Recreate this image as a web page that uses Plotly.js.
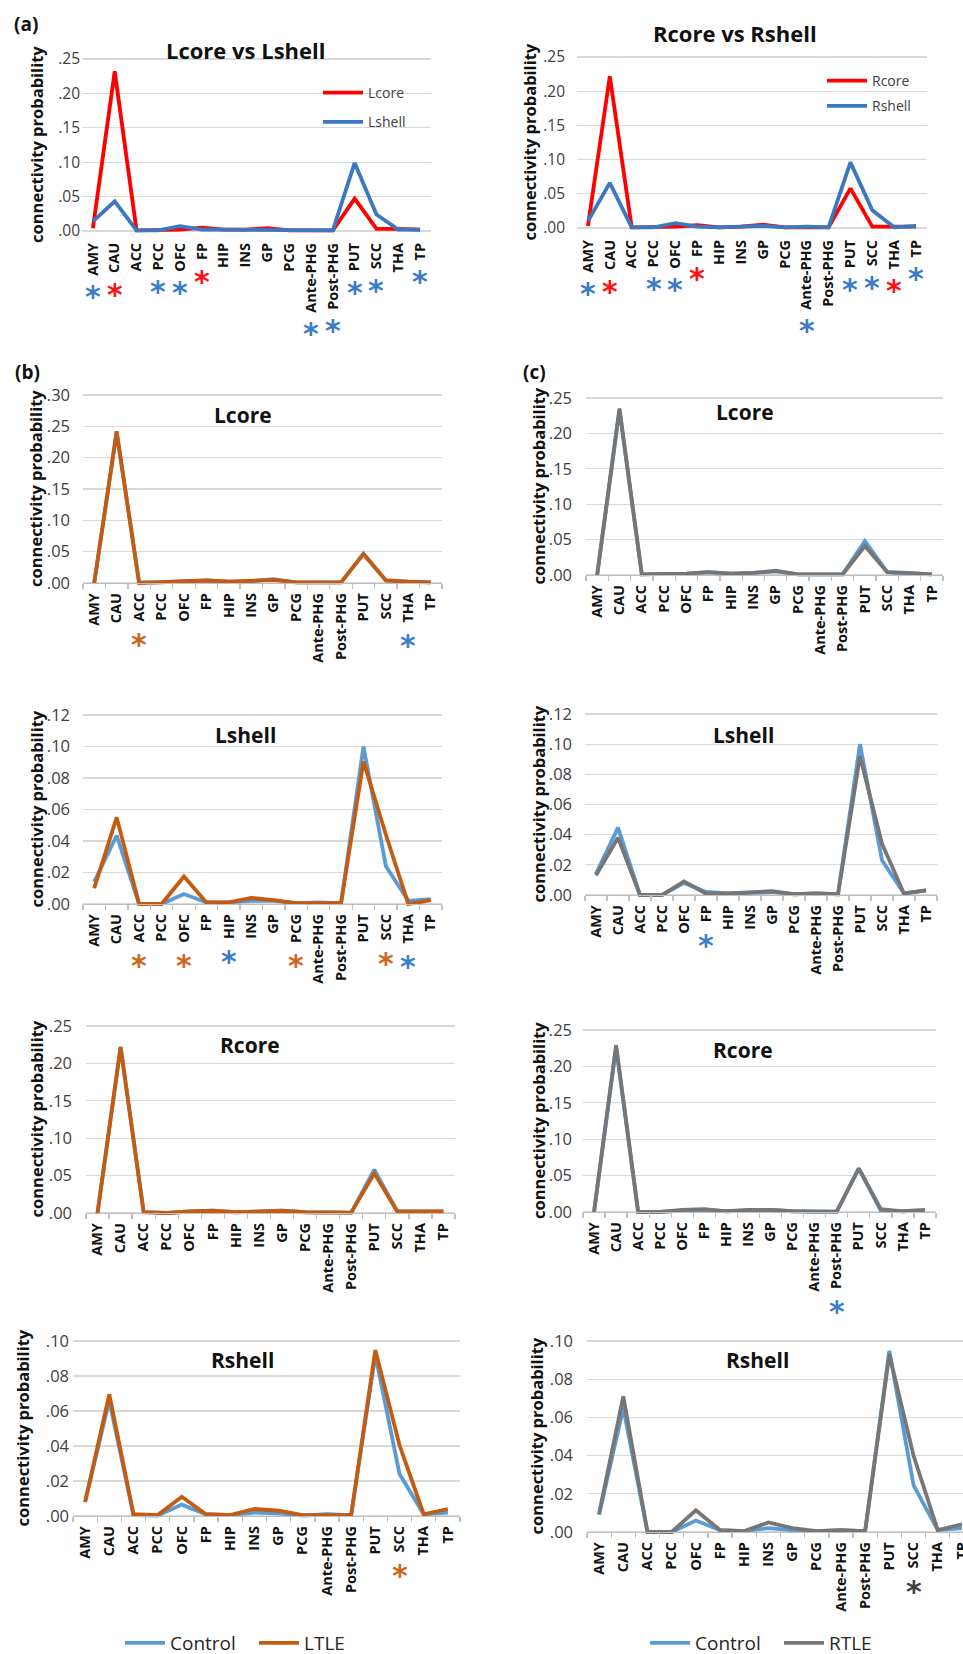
<!DOCTYPE html>
<html><head><meta charset="utf-8">
<script src="https://cdn.plot.ly/plotly-3.0.1.min.js"></script>
<style>html,body{margin:0;padding:0;overflow:hidden;background:#fff;width:963px;height:1654px}#chart{width:980px;height:1680px}</style>
</head><body><div id="chart"></div><script>
const categories = ['AMY','CAU','ACC','PCC','OFC','FP','HIP','INS','GP','PCG','Ante-PHG','Post-PHG','PUT','SCC','THA','TP'];
const yTicksA = [0, 0.05, 0.10, 0.15, 0.20, 0.25];
const yTicks30 = [0, 0.05, 0.10, 0.15, 0.20, 0.25, 0.30];
const yTicks12 = [0, 0.02, 0.04, 0.06, 0.08, 0.10, 0.12];
const yTicks10 = [0, 0.02, 0.04, 0.06, 0.08, 0.10];

// (a) core vs shell
const aLcore  = [0.004,0.232,0.001,0.001,0.002,0.005,0.002,0.002,0.004,0.001,0.001,0.001,0.047,0.003,0.003,0.002];
const aLshell = [0.014,0.043,0.001,0.001,0.007,0.002,0.002,0.002,0.002,0.001,0.002,0.001,0.099,0.024,0.002,0.002];
const aRcore  = [0.003,0.222,0.001,0.001,0.002,0.004,0.001,0.002,0.005,0.001,0.001,0.001,0.058,0.002,0.002,0.002];
const aRshell = [0.010,0.066,0.001,0.001,0.007,0.002,0.001,0.002,0.003,0.001,0.002,0.001,0.096,0.026,0.001,0.003];

// (b) Control vs LTLE
const bLcoreControl  = [0.000,0.240,0.001,0.001,0.003,0.004,0.002,0.003,0.006,0.001,0.001,0.001,0.047,0.004,0.002,0.001];
const bLcoreLTLE     = [0.000,0.242,0.000,0.001,0.003,0.004,0.002,0.003,0.005,0.001,0.001,0.001,0.046,0.004,0.002,0.001];
const bLshellControl = [0.014,0.0435,0.000,0.000,0.0063,0.001,0.001,0.002,0.002,0.0005,0.001,0.0005,0.100,0.024,0.002,0.003];
const bLshellLTLE    = [0.010,0.055,0.000,0.000,0.0175,0.001,0.001,0.0038,0.0025,0.0005,0.0005,0.0005,0.0905,0.044,0.000,0.0025];
const bRcoreControl  = [0.000,0.222,0.001,0.000,0.002,0.003,0.001,0.002,0.003,0.001,0.001,0.0005,0.058,0.002,0.002,0.002];
const bRcoreLTLE     = [0.000,0.222,0.001,0.000,0.002,0.003,0.001,0.002,0.003,0.001,0.001,0.0005,0.053,0.002,0.002,0.002];
const bRshellControl = [0.008,0.066,0.0005,0.0003,0.0065,0.001,0.0005,0.002,0.0015,0.0003,0.001,0.0005,0.092,0.024,0.001,0.002];
const bRshellLTLE    = [0.008,0.0695,0.001,0.0005,0.011,0.001,0.0005,0.004,0.003,0.0005,0.0005,0.0005,0.0948,0.0405,0.001,0.004];

// (c) Control vs RTLE
const cLcoreControl  = [0.000,0.233,0.001,0.001,0.002,0.004,0.002,0.003,0.005,0.001,0.001,0.001,0.048,0.004,0.002,0.001];
const cLcoreRTLE     = [0.000,0.235,0.001,0.001,0.002,0.004,0.002,0.003,0.006,0.001,0.001,0.001,0.041,0.004,0.003,0.001];
const cLshellControl = [0.014,0.0447,0.000,0.000,0.008,0.002,0.001,0.0015,0.002,0.0005,0.001,0.0005,0.100,0.023,0.001,0.003];
const cLshellRTLE    = [0.013,0.038,0.000,0.000,0.009,0.001,0.001,0.0015,0.0025,0.0005,0.001,0.0005,0.092,0.034,0.001,0.003];
const cRcoreControl  = [0.000,0.226,0.000,0.000,0.002,0.003,0.001,0.002,0.003,0.001,0.0005,0.0005,0.0596,0.002,0.001,0.002];
const cRcoreRTLE     = [0.000,0.229,0.000,0.000,0.003,0.004,0.001,0.003,0.003,0.001,0.0005,0.0005,0.060,0.004,0.001,0.003];
const cRshellControl = [0.009,0.065,0.000,0.000,0.006,0.001,0.0005,0.002,0.001,0.0005,0.001,0.0005,0.0948,0.0245,0.001,0.002];
const cRshellRTLE    = [0.0096,0.071,0.000,0.000,0.0114,0.001,0.0005,0.005,0.002,0.0005,0.001,0.0005,0.093,0.040,0.001,0.004];

// significance marks: [category, group]
const sigAL = [['AMY','shell'],['CAU','core'],['PCC','shell'],['OFC','shell'],['FP','core'],['Ante-PHG','shell'],['Post-PHG','shell'],['PUT','shell'],['SCC','shell'],['TP','shell']];
const sigAR = [['AMY','shell'],['CAU','core'],['PCC','shell'],['OFC','shell'],['FP','core'],['Ante-PHG','shell'],['PUT','shell'],['SCC','shell'],['THA','core'],['TP','shell']];
const sigBLcore  = [['ACC','patient'],['THA','control']];
const sigBLshell = [['ACC','patient'],['OFC','patient'],['HIP','control'],['PCG','patient'],['SCC','patient'],['THA','control']];
const sigBRcore  = [];
const sigBRshell = [['SCC','patient']];
const sigCLcore  = [];
const sigCLshell = [['FP','control']];
const sigCRcore  = [['Post-PHG','control']];
const sigCRshell = [['SCC','patient']];

// ---------- styling / layout ----------
const W = 980, H = 1680;
const FONT = 'Open Sans';
const C = {core:'#ff0000', shell:'#3b78c0', control:'#5b9bd5', ltle:'#c55a11', rtle:'#767676'};
const STAR = {a:{core:'#ff1010', shell:'#3b7cc6'}, b:{patient:'#d0651c', control:'#3a80c8'}, c:{patient:'#404040', control:'#3a80c8'}};

const panels = [
  {grp:'a', xl:82,  xr:431, yt:59,   yb:231,  ticks:yTicksA,  title:'Lcore vs Lshell', tx:245, ty:50,   ytx:36,  gap:4,
   series:[{name:'Lcore',y:aLcore,color:C.core,legend:'legend'},{name:'Lshell',y:aLshell,color:C.shell,legend:'legend'}], sig:sigAL},
  {grp:'a', xl:577, xr:927, yt:57,   yb:228,  ticks:yTicksA,  title:'Rcore vs Rshell', tx:735, ty:33,   ytx:529, gap:14,
   series:[{name:'Rcore',y:aRcore,color:C.core,legend:'legend2'},{name:'Rshell',y:aRshell,color:C.shell,legend:'legend2'}], sig:sigAR},
  {grp:'b', xl:83,  xr:442, yt:395,  yb:583,  ticks:yTicks30, title:'Lcore', tx:243, ty:415,  ytx:36,  gap:15,
   series:[{name:'Control',y:bLcoreControl,color:C.control,legend:'legend3',show:true},{name:'LTLE',y:bLcoreLTLE,color:C.ltle,legend:'legend3',show:true}], sig:sigBLcore},
  {grp:'c', xl:586, xr:943, yt:398,  yb:575,  ticks:yTicksA,  title:'Lcore', tx:745, ty:412,  ytx:538, gap:16,
   series:[{name:'Control',y:cLcoreControl,color:C.control,legend:'legend4',show:true},{name:'RTLE',y:cLcoreRTLE,color:C.rtle,legend:'legend4',show:true}], sig:sigCLcore},
  {grp:'b', xl:83,  xr:442, yt:715,  yb:904,  ticks:yTicks12, title:'Lshell', tx:245, ty:735, ytx:36,  gap:15,
   series:[{name:'Control',y:bLshellControl,color:C.control},{name:'LTLE',y:bLshellLTLE,color:C.ltle}], sig:sigBLshell},
  {grp:'c', xl:585, xr:937, yt:714,  yb:895,  ticks:yTicks12, title:'Lshell', tx:743, ty:735, ytx:538, gap:15,
   series:[{name:'Control',y:cLshellControl,color:C.control},{name:'RTLE',y:cLshellRTLE,color:C.rtle}], sig:sigCLshell},
  {grp:'b', xl:86,  xr:455, yt:1026, yb:1213, ticks:yTicksA,  title:'Rcore', tx:250, ty:1045, ytx:36,  gap:16,
   series:[{name:'Control',y:bRcoreControl,color:C.control},{name:'LTLE',y:bRcoreLTLE,color:C.ltle}], sig:sigBRcore},
  {grp:'c', xl:583, xr:936, yt:1030, yb:1212, ticks:yTicksA,  title:'Rcore', tx:743, ty:1050, ytx:538, gap:13,
   series:[{name:'Control',y:cRcoreControl,color:C.control},{name:'RTLE',y:cRcoreRTLE,color:C.rtle}], sig:sigCRcore},
  {grp:'b', xl:73,  xr:460, yt:1341, yb:1516, ticks:yTicks10, title:'Rshell', tx:242, ty:1360, ytx:22,  gap:6,
   series:[{name:'Control',y:bRshellControl,color:C.control},{name:'LTLE',y:bRshellLTLE,color:C.ltle}], sig:sigBRshell},
  {grp:'c', xl:587, xr:974, yt:1341, yb:1532, ticks:yTicks10, title:'Rshell', tx:757, ty:1360, ytx:536, gap:16,
   series:[{name:'Control',y:cRshellControl,color:C.control},{name:'RTLE',y:cRshellRTLE,color:C.rtle}], sig:sigCRshell}
];

const ctx = document.createElement('canvas').getContext('2d');
ctx.font = 'bold 14.5px "Open Sans"';
const labelW = s => ctx.measureText(s).width;

const px = x => x / W, py = y => (H - y) / H;
const traces = [], annotations = [];
const layout = {width: W, height: H, margin:{l:0,r:0,t:0,b:0}, paper_bgcolor:'#fff', plot_bgcolor:'rgba(0,0,0,0)', showlegend:true, annotations};

panels.forEach((p, i) => {
  const k = i + 1;
  const xn = k === 1 ? 'x' : 'x' + k, yn = k === 1 ? 'y' : 'y' + k;
  const top = p.ticks[p.ticks.length - 1];
  const ppu = (p.yb - p.yt) / top;
  const extB = 6, extT = 3;
  const isA = p.grp === 'a';
  layout['xaxis' + (k === 1 ? '' : k)] = {
    type:'category', categoryorder:'array', categoryarray:categories, range:[-0.5, 15.5],
    domain:[px(p.xl), Math.min(1, px(p.xr))], anchor:'free', position:py(p.yb),
    tickangle:-90, tickfont:{family:FONT, size:14.5, color:'#111', weight:'bold'},
    showgrid:false, zeroline:false, showline:!isA, linecolor:'#bfbfbf', linewidth:1.3,
    ticks: isA ? '' : 'outside', tickson:'boundaries', ticklen:5, tickcolor:'#bfbfbf', tickwidth:1.3,
    ticklabelstandoff: isA ? 8 : 3, fixedrange:true
  };
  layout['yaxis' + (k === 1 ? '' : k)] = {
    anchor: xn, domain:[py(p.yb + extB), py(p.yt - extT)], range:[-extB / ppu, top + extT / ppu],
    tickvals:p.ticks, ticktext:p.ticks.map(v => v.toFixed(2).replace(/^0/, '')),
    tickfont:{family:FONT, size: isA ? 15.5 : 16.5, color:'#404040'},
    showgrid:true, gridcolor:'#d9d9d9', gridwidth:1.3, zeroline:false, showline:false, ticks:'',
    ticklabelstandoff: Math.max(0, p.gap - 3), fixedrange:true
  };
  p.series.forEach((s, j) => {
    traces.push({
      type:'scatter', mode:'lines', x:categories, y:s.y, name:s.name, xaxis:xn, yaxis:yn,
      line:{color:s.color, width:3.8},
      legend: s.legend || 'legend3', legendgroup: (s.legend || 'l') + s.name,
      showlegend: isA ? true : !!s.show, hoverinfo:'skip'
    });
  });
  annotations.push({xref:'paper', yref:'paper', x:px(p.tx), y:py(p.ty), xanchor:'center', yanchor:'middle',
    text:p.title, showarrow:false, font:{family:FONT, size: isA ? 22 : 21, color:'#111', weight:'bold'}});
  annotations.push({xref:'paper', yref:'paper', x:px(p.ytx), y:py((p.yt + p.yb) / 2), xanchor:'center', yanchor:'middle',
    text:'connectivity probability', textangle:-90, showarrow:false, font:{family:FONT, size:16.5, color:'#111', weight:'bold'}});
  p.sig.forEach(([cat, g]) => {
    const off = 13 + labelW(cat) + 13;
    annotations.push({xref:xn, yref:'paper', x:cat, y:py(p.yb), xanchor:'center', yanchor:'middle',
      yshift: -(off + 7), text:'*', showarrow:false, font:{family:'DejaVu Sans', size:30, color:STAR[p.grp][g], weight:'bold'}});
  });
});

[['(a)', 26, 24], ['(b)', 27, 372], ['(c)', 534, 372]].forEach(([t, x, y]) => {
  annotations.push({xref:'paper', yref:'paper', x:px(x), y:py(y), xanchor:'center', yanchor:'middle', text:t, showarrow:false,
    font:{family:FONT, size:19, color:'#111', weight:'bold'}});
});

const legBase = {bgcolor:'rgba(0,0,0,0)', borderwidth:0, itemwidth:40, traceorder:'grouped', itemclick:false, itemdoubleclick:false};
layout.legend  = Object.assign({}, legBase, {x:px(318), xanchor:'left', y:py(77), yanchor:'top', tracegroupgap:8, font:{family:FONT, size:14, color:'#404040'}});
layout.legend2 = Object.assign({}, legBase, {x:px(822), xanchor:'left', y:py(65), yanchor:'top', tracegroupgap:4, font:{family:FONT, size:14, color:'#404040'}});
layout.legend3 = Object.assign({}, legBase, {orientation:'h', traceorder:'normal', entrywidth:79, x:px(120), xanchor:'left', y:py(1643), yanchor:'middle', font:{family:FONT, size:19, color:'#262626'}});
layout.legend4 = Object.assign({}, legBase, {orientation:'h', traceorder:'normal', entrywidth:79, x:px(645), xanchor:'left', y:py(1643), yanchor:'middle', font:{family:FONT, size:19, color:'#262626'}});

Plotly.newPlot('chart', traces, layout, {staticPlot:true, displayModeBar:false});
</script></body></html>
